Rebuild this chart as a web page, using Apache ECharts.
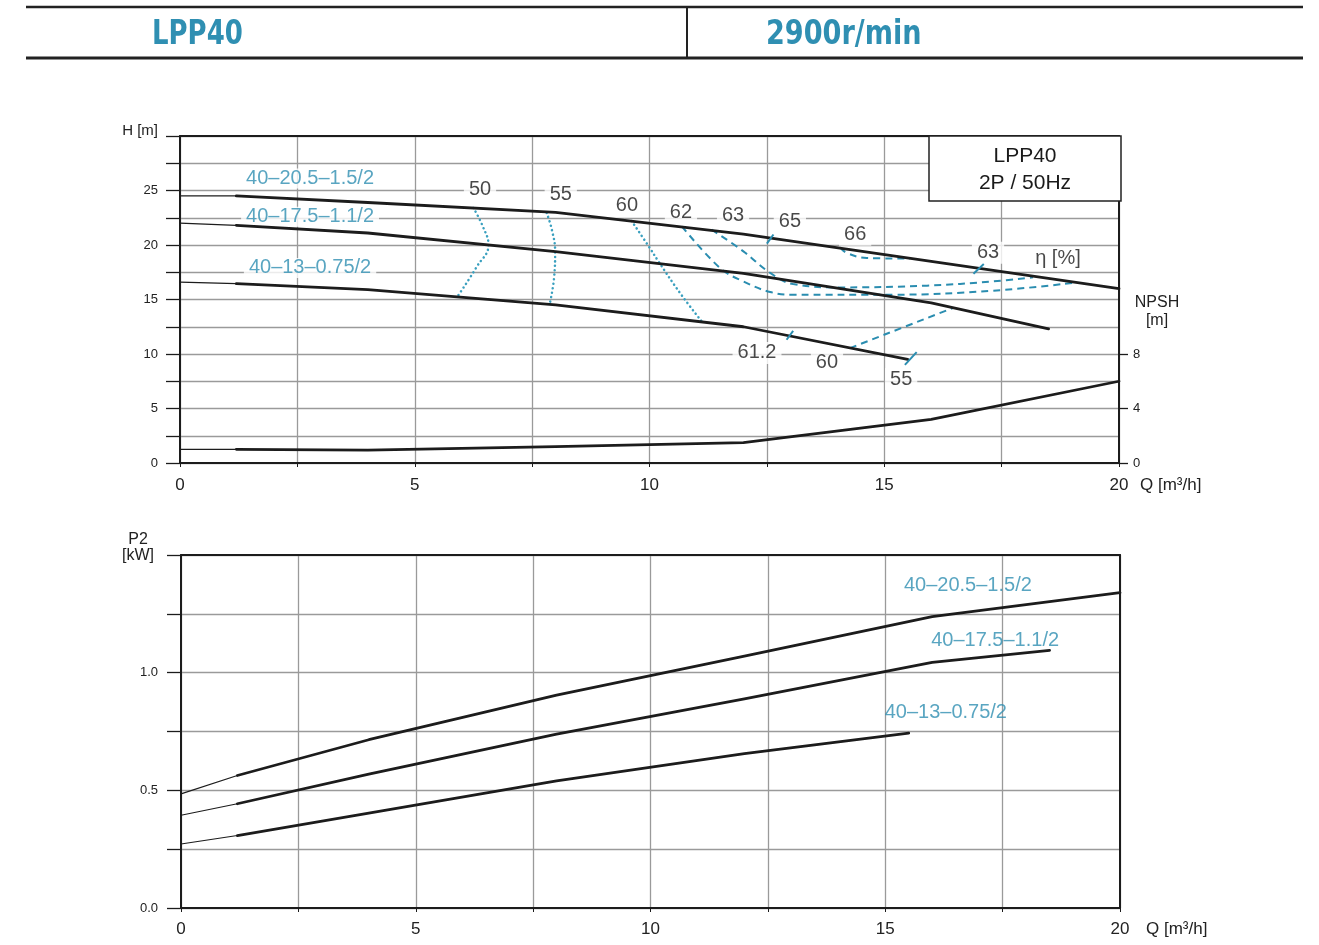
<!DOCTYPE html>
<html>
<head>
<meta charset="utf-8">
<script src="https://cdn.jsdelivr.net/npm/echarts@6/dist/echarts.min.js"></script>
<style>
html,body{margin:0;padding:0;background:#fff;}
#chart{width:1319px;height:945px;}
</style>
</head>
<body>
<div id="chart"></div>
<script>
// ---------- DATA ----------
// Head curves H [m] vs Q [m3/h]
const qA = [1.2, 4, 8, 12, 16, 20];
const hA = [24.5, 23.9, 23.0, 21.0, 18.5, 16.0];
const qB = [1.2, 4, 8, 12, 16, 18.5];
const hB = [21.8, 21.1, 19.4, 17.4, 14.7, 12.3];
const qC = [1.2, 4, 8, 12, 15.5];
const hC = [16.45, 15.9, 14.5, 12.5, 9.5];
const hAtZero = [24.5, 22.0, 16.6];        // A, B, C at Q=0 (thin extension)
// NPSH [m]
const qN = [1.2, 4, 8, 12, 16, 20];
const npsh = [1.0, 0.95, 1.2, 1.5, 3.2, 6.0];
const npshAtZero = 1.0;
// Power P2 [kW]
const pA = [0.563, 0.715, 0.905, 1.07, 1.238, 1.34];
const pB = [0.443, 0.569, 0.739, 0.889, 1.044, 1.095];
const pC = [0.308, 0.403, 0.54, 0.656, 0.743];
const pAtZero = [0.485, 0.394, 0.272];
// Model names
const models = ['40–20.5–1.5/2', '40–17.5–1.1/2', '40–13–0.75/2'];
// Iso-efficiency lines [Q, H]
const eta50 = [[6.25,23.4],[6.45,21.7],[6.57,20.0],[6.32,18.0],[5.93,15.4]];
const eta55 = [[7.81,22.95],[7.92,21.4],[7.99,19.4],[7.97,17.1],[7.88,14.7]];
const eta60 = [[9.62,22.2],[10.01,19.7],[10.19,18.5],[10.65,15.6],[11.11,13.0]];
const eta62 = [[10.69,21.72],[11.5,17.9],[12.0,16.66],[12.57,15.69],[13.06,15.44],[15.19,15.44],[17.32,15.81],[19.02,16.52]];
const eta63 = [[11.32,21.42],[12.0,19.42],[12.57,17.44],[13.06,16.42],[14.12,16.11],[15.91,16.27],[17.32,16.66],[18.17,17.03]];
const eta66 = [[14.06,19.79],[14.2,19.27],[14.63,18.81],[15.55,18.75]];
const eta60b = [[14.27,10.54],[16.46,14.22]];
// Efficiency marks on curves [Q, H]
const marks = [
  [[12.5,20.13],[12.64,20.96]],
  [[16.9,17.37],[17.12,18.26]],
  [[12.92,11.31],[13.06,12.13]],
  [[15.44,9.0],[15.69,10.17]]
];
// Efficiency labels
const etaLabels = ['50','55','60','62','63','65','66','63','η [%]','61.2','60','55'];
const etaLabelQ = [6.39, 8.11, 9.52, 10.67, 11.78, 12.99, 14.38, 17.21, 18.7, 12.29, 13.78, 15.36];
const etaLabelH = [25.05, 24.6, 23.6, 22.95, 22.7, 22.2, 20.95, 19.3, 18.75, 10.1, 9.2, 7.7];
// Model label anchors
const modelLabelQTop = [2.77, 2.77, 2.77];
const modelLabelHTop = [26.1, 22.6, 17.9];
const modelLabelQBot = [16.76, 17.34, 16.29];
const modelLabelPBot = [1.372, 1.138, 0.832];
// Axis ticks
const hLabels = [0, 5, 10, 15, 20, 25];
const npshLabels = [0, 4, 8];
const pLabels = [0, 0.5, 1.0];
const qLabels = [0, 5, 10, 15, 20];

// ---------- STYLE ----------
const TEAL = '#2f8fb2';
const TEAL_LINE = '#2a8db0';
const DOT_LINE = '#3aa0bf';
const INK = '#1c1c1c';
const GRIDC = '#9a9a9a';
const FONT = '"Liberation Sans", Arial, sans-serif';
const HEADFONT = 'bold 34px "Liberation Sans Narrow", "DejaVu Sans Condensed", sans-serif';

const zip = (xs, ys) => xs.map((x, i) => [x, ys[i]]);

function axisX(gi, pos, withLabels, margin) {
  return {
    type: 'value', gridIndex: gi, position: pos, min: 0, max: 20, interval: 2.5,
    axisLine: {show: true, onZero: false, lineStyle: {color: INK, width: 2}},
    axisTick: {show: withLabels, length: 4, lineStyle: {color: INK, width: 1}},
    axisLabel: {show: withLabels, margin: margin, fontSize: 17, color: '#222', fontFamily: FONT,
      formatter: v => qLabels.includes(v) ? String(v) : ''},
    splitLine: {show: withLabels, lineStyle: {color: GRIDC, width: 1.3}}
  };
}

const series = [];
function line(xi, yi, data, width, z) {
  series.push({type: 'line', xAxisIndex: xi, yAxisIndex: yi, data: data, showSymbol: false, symbol: 'none',
    silent: true, z: z || 4, lineStyle: {color: INK, width: width, cap: 'round', join: 'round'}});
}
// Head curves
[[qA,hA],[qB,hB],[qC,hC]].forEach((c, i) => {
  line(0, 0, [[0, hAtZero[i]], [c[0][0], c[1][0]]], 1.2);
  line(0, 0, zip(c[0], c[1]), 2.8);
});
// NPSH
line(0, 1, [[0, npshAtZero], [qN[0], npsh[0]]], 1.2);
line(0, 1, zip(qN, npsh), 2.8);
// Power
[[qA,pA],[qB,pB],[qC,pC]].forEach((c, i) => {
  line(2, 2, [[0, pAtZero[i]], [c[0][0], c[1][0]]], 1.2);
  line(2, 2, zip(c[0], c[1]), 2.8);
});
// Iso efficiency dotted
[eta50, eta55, eta60].forEach(d => series.push({
  type: 'line', xAxisIndex: 0, yAxisIndex: 0, data: d, smooth: 0.45, showSymbol: false, symbol: 'none', silent: true, z: 3,
  lineStyle: {color: DOT_LINE, width: 2.5, type: [0.1, 4.4], cap: 'round'}
}));
// Iso efficiency dashed
[eta62, eta63, eta66, eta60b].forEach(d => series.push({
  type: 'line', xAxisIndex: 0, yAxisIndex: 0, data: d, smooth: 0.4, showSymbol: false, symbol: 'none', silent: true, z: 3,
  lineStyle: {color: TEAL_LINE, width: 2, type: [7, 5]}
}));
// Marks
marks.forEach(d => series.push({
  type: 'line', xAxisIndex: 0, yAxisIndex: 0, data: d, showSymbol: false, symbol: 'none', silent: true, z: 5,
  lineStyle: {color: TEAL_LINE, width: 2}
}));
// Efficiency labels
series.push({
  type: 'scatter', xAxisIndex: 0, yAxisIndex: 0, symbolSize: 0, silent: true, z: 2,
  data: etaLabels.map((t, i) => ({name: t, value: [etaLabelQ[i], etaLabelH[i]]})),
  label: {show: true, position: 'inside', formatter: p => p.name, color: '#1a1a1a', fontSize: 20, fontFamily: FONT,
    backgroundColor: '#fff', padding: [1, 5]}
});
// Model labels top
series.push({
  type: 'scatter', xAxisIndex: 0, yAxisIndex: 0, symbolSize: 0, silent: true, z: 2,
  data: models.map((t, i) => ({name: t, value: [modelLabelQTop[i], modelLabelHTop[i]]})),
  label: {show: true, position: 'inside', formatter: p => p.name, color: TEAL, fontSize: 20, fontFamily: FONT,
    backgroundColor: '#fff', padding: [0, 5]}
});
// Model labels bottom
series.push({
  type: 'scatter', xAxisIndex: 2, yAxisIndex: 2, symbolSize: 0, silent: true, z: 2,
  data: models.map((t, i) => ({name: t, value: [modelLabelQBot[i], modelLabelPBot[i]]})),
  label: {show: true, position: 'inside', formatter: p => p.name, color: TEAL, fontSize: 20, fontFamily: FONT}
});

const option = {
  animation: false,
  backgroundColor: '#fff',
  textStyle: {fontFamily: FONT},
  grid: [
    {left: 180, top: 136, width: 939, height: 327},
    {left: 181, top: 555, width: 939, height: 353}
  ],
  xAxis: [
    axisX(0, 'bottom', true, 14),
    axisX(0, 'top', false, 0),
    axisX(1, 'bottom', true, 13),
    axisX(1, 'top', false, 0)
  ],
  yAxis: [
    {type: 'value', gridIndex: 0, position: 'left', min: 0, max: 30, interval: 2.5,
      axisLine: {show: true, onZero: false, lineStyle: {color: INK, width: 2}},
      axisTick: {show: true, length: 14, lineStyle: {color: INK, width: 1.3}},
      axisLabel: {margin: 22, fontSize: 13, color: '#222', fontFamily: FONT,
        formatter: v => hLabels.includes(v) ? String(v) : ''},
      splitLine: {show: true, lineStyle: {color: GRIDC, width: 1.3}}},
    {type: 'value', gridIndex: 0, position: 'right', min: 0, max: 24, interval: 4,
      axisLine: {show: true, onZero: false, lineStyle: {color: INK, width: 2}},
      axisTick: {show: true, length: 9, customValues: npshLabels, lineStyle: {color: INK, width: 1.3}},
      axisLabel: {margin: 14, fontSize: 13, color: '#222', fontFamily: FONT, customValues: npshLabels,
        formatter: v => npshLabels.includes(v) ? String(v) : ''},
      splitLine: {show: false}},
    {type: 'value', gridIndex: 1, position: 'left', min: 0, max: 1.5, interval: 0.25,
      axisLine: {show: true, onZero: false, lineStyle: {color: INK, width: 2}},
      axisTick: {show: true, length: 14, lineStyle: {color: INK, width: 1.3}},
      axisLabel: {margin: 23, fontSize: 13, color: '#222', fontFamily: FONT,
        formatter: v => pLabels.includes(v) ? v.toFixed(1) : ''},
      splitLine: {show: true, lineStyle: {color: GRIDC, width: 1.3}}},
    {type: 'value', gridIndex: 1, position: 'right', min: 0, max: 1.5, interval: 0.25,
      axisLine: {show: true, onZero: false, lineStyle: {color: INK, width: 2}},
      axisTick: {show: false}, axisLabel: {show: false}, splitLine: {show: false}}
  ],
  series: series,
  graphic: [
    // header
    {type: 'line', shape: {x1: 26, y1: 7, x2: 1303, y2: 7}, style: {stroke: '#222', lineWidth: 2.5}},
    {type: 'line', shape: {x1: 26, y1: 58, x2: 1303, y2: 58}, style: {stroke: '#222', lineWidth: 3}},
    {type: 'line', shape: {x1: 687, y1: 7, x2: 687, y2: 58}, style: {stroke: '#222', lineWidth: 2}},
    {type: 'text', x: 152, y: 35, scaleX: 0.85, style: {text: 'LPP40', fill: TEAL, font: HEADFONT, textAlign: 'left', textVerticalAlign: 'middle', align: 'left', verticalAlign: 'middle'}},
    {type: 'text', x: 766, y: 35, scaleX: 0.886, style: {text: '2900r/min', fill: TEAL, font: HEADFONT, textAlign: 'left', textVerticalAlign: 'middle', align: 'left', verticalAlign: 'middle'}},
    // legend box
    {type: 'rect', shape: {x: 929, y: 136, width: 192, height: 65}, style: {fill: '#fff', stroke: '#222', lineWidth: 1.5}, z: 20},
    {type: 'text', x: 1025, y: 156, z: 21, style: {text: 'LPP40', fill: '#1a1a1a', font: '21px ' + FONT, textAlign: 'center', textVerticalAlign: 'middle', align: 'center', verticalAlign: 'middle'}},
    {type: 'text', x: 1025, y: 183, z: 21, style: {text: '2P / 50Hz', fill: '#1a1a1a', font: '21px ' + FONT, textAlign: 'center', textVerticalAlign: 'middle', align: 'center', verticalAlign: 'middle'}},
    // axis titles
    {type: 'text', x: 158, y: 131, style: {text: 'H [m]', fill: '#222', font: '15px ' + FONT, textAlign: 'right', textVerticalAlign: 'middle', align: 'right', verticalAlign: 'middle'}},
    {type: 'text', x: 1157, y: 303, style: {text: 'NPSH', fill: '#222', font: '16px ' + FONT, textAlign: 'center', textVerticalAlign: 'middle', align: 'center', verticalAlign: 'middle'}},
    {type: 'text', x: 1157, y: 321, style: {text: '[m]', fill: '#222', font: '16px ' + FONT, textAlign: 'center', textVerticalAlign: 'middle', align: 'center', verticalAlign: 'middle'}},
    {type: 'text', x: 1140, y: 485, style: {text: 'Q [m³/h]', fill: '#222', font: '17px ' + FONT, textAlign: 'left', textVerticalAlign: 'middle', align: 'left', verticalAlign: 'middle'}},
    {type: 'text', x: 138, y: 540, style: {text: 'P2', fill: '#222', font: '16px ' + FONT, textAlign: 'center', textVerticalAlign: 'middle', align: 'center', verticalAlign: 'middle'}},
    {type: 'text', x: 138, y: 556, style: {text: '[kW]', fill: '#222', font: '16px ' + FONT, textAlign: 'center', textVerticalAlign: 'middle', align: 'center', verticalAlign: 'middle'}},
    {type: 'text', x: 1146, y: 929, style: {text: 'Q [m³/h]', fill: '#222', font: '17px ' + FONT, textAlign: 'left', textVerticalAlign: 'middle', align: 'left', verticalAlign: 'middle'}}
  ]
};

const chart = echarts.init(document.getElementById('chart'), null, {renderer: 'canvas'});
chart.setOption(option);
</script>
</body>
</html>
